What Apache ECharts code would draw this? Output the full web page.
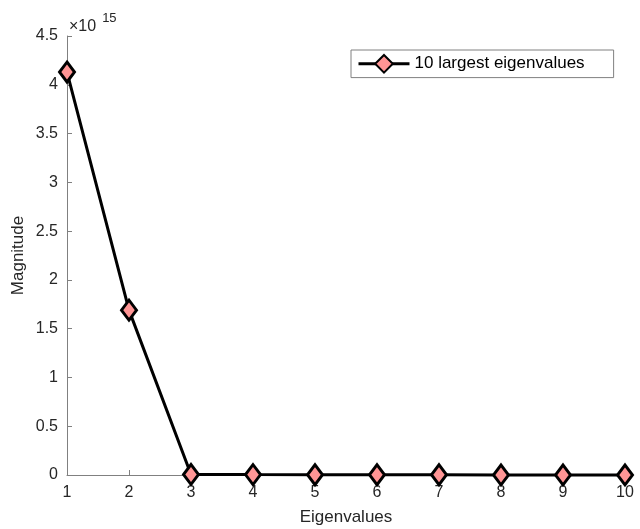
<!DOCTYPE html>
<html><head><meta charset="utf-8">
<script src="https://cdn.jsdelivr.net/npm/echarts@6/dist/echarts.min.js"></script>
<style>html,body{margin:0;padding:0;background:#fff}#c{width:640px;height:529px}</style>
</head><body><div id="c"></div>
<script>
const categories = [1, 2, 3, 4, 5, 6, 7, 8, 9, 10];
const eigenvalues = [4.13e15, 1.69e15, 0.006e15, 0.004e15, 0.003e15, 0.002e15, 0.002e15, 0.001e15, 0.001e15, 0.001e15];
const seriesName = '10 largest eigenvalues';
const yScale = 1e15;

const chart = echarts.init(document.getElementById('c'), null, {renderer: 'canvas'});
const font = 'Liberation Sans, Arial, Helvetica, sans-serif';
const axisGray = '#808080';
const textColor = '#262626';
chart.setOption({
  animation: false,
  backgroundColor: '#fff',
  grid: {left: 67, right: 15, top: 36, bottom: 54, containLabel: false, outerBoundsMode: 'none'},
  xAxis: {
    type: 'value', min: 1, max: 10, interval: 1,
    name: 'Eigenvalues', nameLocation: 'middle', nameGap: 34,
    nameTextStyle: {fontFamily: font, fontSize: 17, color: textColor},
    axisLine: {show: true, lineStyle: {color: axisGray, width: 1}},
    axisTick: {show: true, inside: true, length: 5, lineStyle: {color: axisGray}},
    axisLabel: {fontFamily: font, fontSize: 16, color: textColor, margin: 10},
    splitLine: {show: false}
  },
  yAxis: {
    type: 'value', min: 0, max: 4.5e15, interval: 0.5e15,
    name: 'Magnitude', nameLocation: 'middle', nameGap: 40, nameRotate: 90,
    nameMoveOverlap: false,
    nameTextStyle: {fontFamily: font, fontSize: 17, color: textColor},
    axisLine: {show: true, lineStyle: {color: axisGray, width: 1}},
    axisTick: {show: true, inside: true, length: 5, lineStyle: {color: axisGray}},
    axisLabel: {fontFamily: font, fontSize: 16, color: textColor, margin: 9,
      formatter: v => String(+(v / yScale).toFixed(1))},
    splitLine: {show: false}
  },
  legend: {
    left: 351, top: 50, orient: 'vertical',
    padding: [4, 29, 4, 6],
    itemWidth: 51, itemHeight: 22,
    borderColor: axisGray, borderWidth: 1, backgroundColor: '#fff',
    lineStyle: {width: 3, color: '#000'},
    textStyle: {fontFamily: font, fontSize: 17, color: '#000'},
    data: [seriesName]
  },
  graphic: [{
    type: 'text', left: 69, top: 12,
    style: {
      text: '{a|×10}{b|15}',
      rich: {
        a: {fontFamily: font, fontSize: 16, fill: textColor, verticalAlign: 'bottom'},
        b: {fontFamily: font, fontSize: 13, fill: textColor, verticalAlign: 'top', padding: [0, 0, 10, 6]}
      }
    }
  }],
  series: [{
    name: seriesName, type: 'line',
    data: categories.map((c, i) => [c, eigenvalues[i]]),
    symbol: 'diamond', symbolSize: [15, 20],
    lineStyle: {color: '#000', width: 3},
    itemStyle: {color: '#ff9595', borderColor: '#000', borderWidth: 3},
    clip: false
  }]
});
</script></body></html>
